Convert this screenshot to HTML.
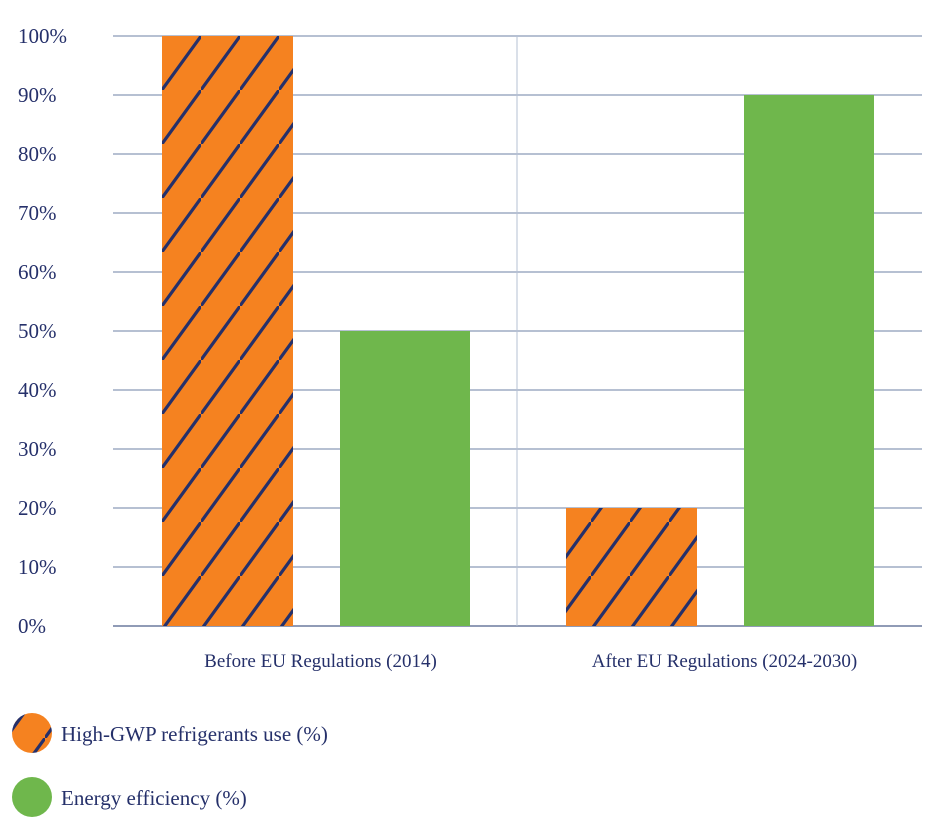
<!DOCTYPE html>
<html><head><meta charset="utf-8"><style>
body{margin:0;background:#fff}
svg text{font-family:"Liberation Serif",serif;fill:#25306a}
</style></head><body>
<svg width="952" height="827" id="c">
<defs>
<pattern id="hatch" patternUnits="userSpaceOnUse" x="162" y="36" width="39" height="54">
<rect width="39" height="54" fill="#f58220"/>
<line x1="-3" y1="58" x2="42" y2="-4" stroke="#25306a" stroke-width="3.2"/>
</pattern>
</defs>
<g id="grid"></g><g id="bars"></g><g id="legend"></g>
</svg>
<script>
const categories=["Before EU Regulations  (2014)","After EU Regulations  (2024-2030)"];
const highGwp=[100,20];
const efficiency=[50,90];
const ticks=[0,10,20,30,40,50,60,70,80,90,100];
const NS="http://www.w3.org/2000/svg";
const y0=626,y1=36,xL=113,xR=922;
const y=v=>y0-(v/100)*(y0-y1);
function mk(t,a,p){const e=document.createElementNS(NS,t);for(const k in a)e.setAttribute(k,a[k]);p.appendChild(e);return e;}
const g=document.getElementById('grid');
ticks.forEach(t=>{
 const l=mk('line',{x1:xL,x2:xR,y1:y(t),y2:y(t),stroke:t===0?'#4d5f8a':'#8a9bb8','stroke-width':1.3},g);
 
 
 const tx=mk('text',{x:18,y:y(t)+7,'font-size':21},g);tx.textContent=t+'%';
 
 
});
const dv=mk('line',{x1:517,x2:517,y1:36,y2:626,stroke:'#b5c0d3','stroke-width':1},g);


const b=document.getElementById('bars');
const groupX=[162,566],bw=131,gap=178;
categories.forEach((c,i)=>{
 const r1=mk('rect',{x:groupX[i],y:y(highGwp[i]),width:bw,height:y0-y(highGwp[i]),fill:'url(#hatch)'},b);
 
 
 const r2=mk('rect',{x:groupX[i]+gap,y:y(efficiency[i]),width:bw-1,height:y0-y(efficiency[i]),fill:'#6fb74c'},b);
 
 
 const t=mk('text',{x:groupX[i]+(bw+gap)/2+4,y:667,'font-size':19,'text-anchor':'middle'},b);t.textContent=c;
 
 
});
const lg=document.getElementById('legend');
const c1=mk('circle',{cx:32,cy:733,r:20,fill:'url(#hatch)'},lg);


const t1=mk('text',{x:61,y:741,'font-size':21},lg);t1.textContent='High-GWP refrigerants use (%)';


const c2=mk('circle',{cx:32,cy:797,r:20,fill:'#6fb74c'},lg);


const t2=mk('text',{x:61,y:805,'font-size':21},lg);t2.textContent='Energy efficiency (%)';


</script>
</body></html>
